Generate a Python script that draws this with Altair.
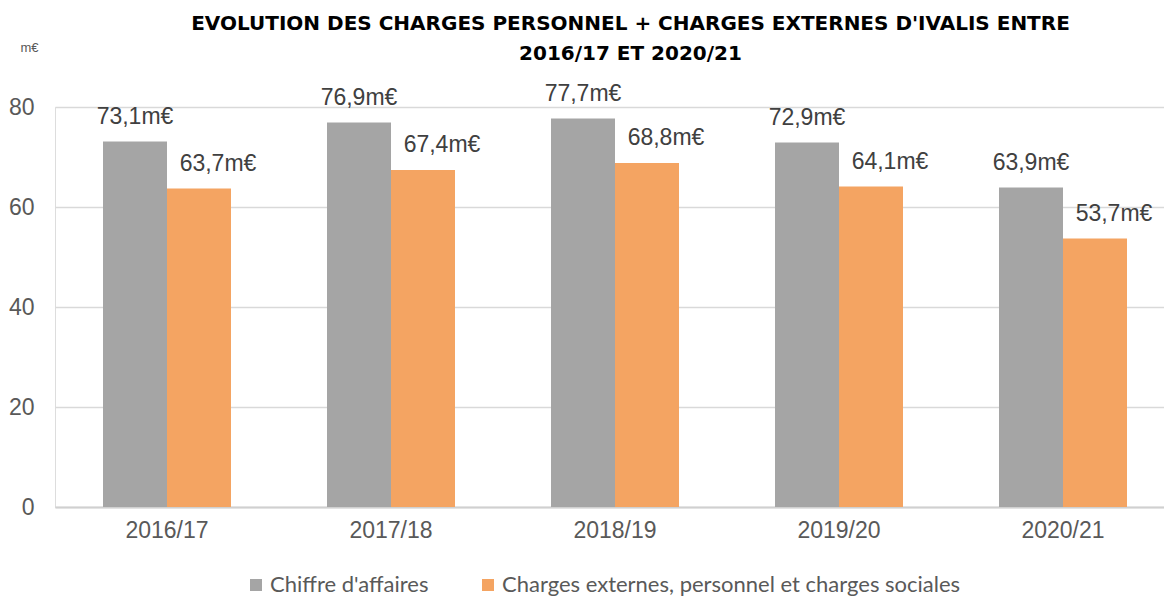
import altair as alt
import pandas as pd

years = ["2016/17", "2017/18", "2018/19", "2019/20", "2020/21"]
chiffre = [73.1, 76.9, 77.7, 72.9, 63.9]
charges = [63.7, 67.4, 68.8, 64.1, 53.7]
series = ["Chiffre d'affaires", "Charges externes, personnel et charges sociales"]
colors = ["#a5a5a5", "#f4a462"]

rows = []
for y, a, b in zip(years, chiffre, charges):
    for s, v in zip(series, [a, b]):
        rows.append({"year": y, "series": s, "value": v,
                     "label": f"{v:.1f}".replace(".", ",") + "m€"})
df = pd.DataFrame(rows)

FONT = "Liberation Sans"

x = alt.X("year:N", sort=years,
          scale=alt.Scale(range=[0, 1120], paddingInner=0.4286, paddingOuter=0.2143),
          axis=alt.Axis(title=None, labelAngle=0, labelFont=FONT, labelFontSize=23,
                        labelColor="#595959", labelPadding=12, ticks=False,
                        domainColor="#d0d0d0", domainWidth=2))
xo = alt.XOffset("series:N", sort=series, scale=alt.Scale(paddingInner=0, paddingOuter=0))
y = alt.Y("value:Q", scale=alt.Scale(domain=[0, 80]),
          axis=alt.Axis(values=[0, 20, 40, 60, 80], labelFont=FONT, labelFontSize=23,
                        labelColor="#595959", labelPadding=21, domain=False, ticks=False,
                        gridColor="#d9d9d9", gridWidth=1.5,
                        title="m€", titleAngle=0, titleX=-26, titleY=-60,
                        titleAlign="center", titleBaseline="middle", titleFont=FONT,
                        titleFontSize=13, titleFontWeight="normal", titleColor="#595959"))

base = alt.Chart(df)

bars = base.mark_bar(clip=False).encode(
    x=x, xOffset=xo, y=y,
    color=alt.Color("series:N", sort=series,
                    scale=alt.Scale(domain=series, range=colors),
                    legend=alt.Legend(title=None, orient="none", direction="horizontal",
                                      legendX=190, legendY=467, symbolType="square",
                                      symbolSize=144, symbolStrokeWidth=0,
                                      symbolOffset=0, labelOffset=3,
                                      labelFont="Lato", labelFontSize=22,
                                      labelColor="#595959", columnPadding=48,
                                      labelLimit=700)),
)

txt_gray = base.transform_filter(alt.datum.series == series[0]).mark_text(
    font=FONT, fontSize=23, color="#404040", baseline="bottom", dy=-13, clip=False
).encode(x=x, xOffset=xo, y=y, text="label:N")

txt_orange = base.transform_filter(alt.datum.series == series[1]).mark_text(
    font=FONT, fontSize=23, color="#404040", baseline="bottom", dy=-13, dx=19, clip=False
).encode(x=x, xOffset=xo, y=y, text="label:N")

chart = alt.layer(bars, txt_gray, txt_orange).properties(
    width=1109, height=400,
    autosize=alt.AutoSizeParams(type="none"),
    padding={"left": 55, "top": 107, "right": 0, "bottom": 90},
    title=alt.TitleParams(
        text=["EVOLUTION DES CHARGES PERSONNEL + CHARGES EXTERNES D'IVALIS ENTRE",
              "2016/17 ET 2020/21"],
        font="DejaVu Sans", fontSize=20, fontWeight="bold", color="#000000",
        anchor="middle", frame="group", dx=21, offset=-23, lineHeight=30),
).configure_view(stroke=None).configure(background="white")

chart.save("out.html", embed_options={"renderer": "svg", "actions": False})
